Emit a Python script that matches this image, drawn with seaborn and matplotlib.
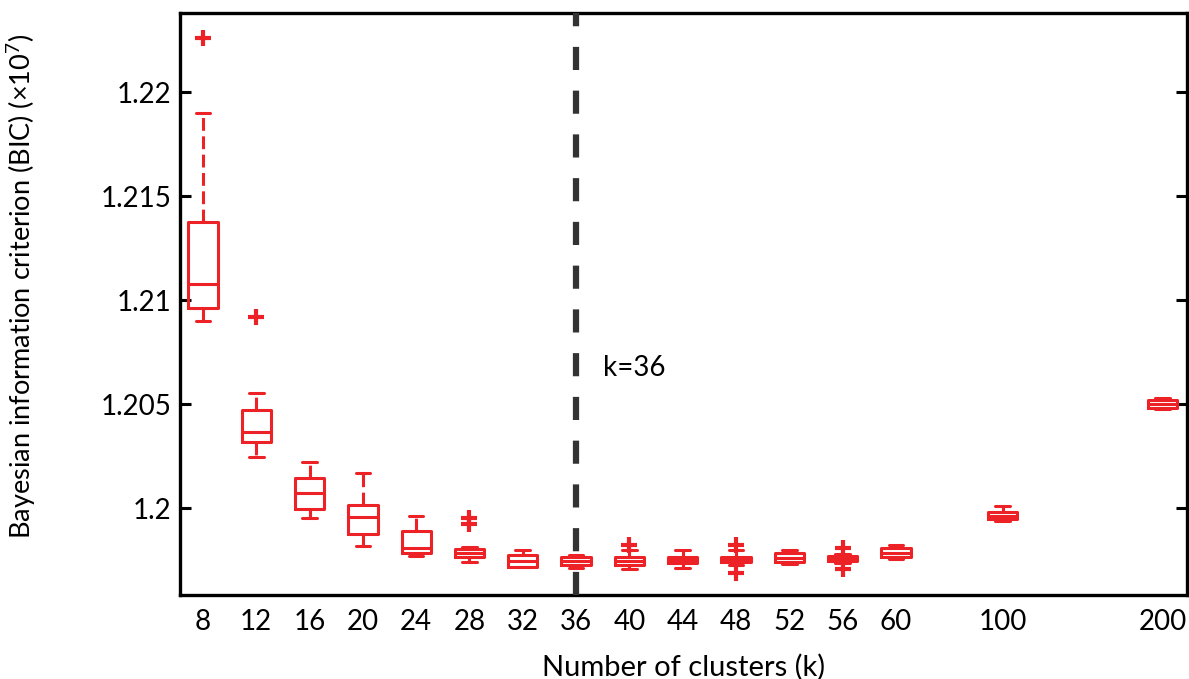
import numpy as np
import pandas as pd
import matplotlib
matplotlib.use("Agg")
import matplotlib.pyplot as plt
from matplotlib.ticker import FuncFormatter
import seaborn as sns

# Number of clusters tested
k_values = ["8", "12", "16", "20", "24", "28", "32", "36", "40", "44", "48", "52", "56", "60", "100", "200"]

# BIC summary per k (units of 1e7): whisker ends, quartiles and median
whisker_low = [1.20900, 1.20247, 1.19953, 1.19817, 1.19769, 1.19739, 1.19715, 1.19712,
               1.19705, 1.19713, 1.19724, 1.19731, 1.19735, 1.19755, 1.19940, 1.20476]
quartile_1 = [1.20960, 1.20319, 1.19994, 1.19873, 1.19782, 1.19764, 1.19718, 1.19726,
              1.19726, 1.19734, 1.19739, 1.19740, 1.19745, 1.19764, 1.19945, 1.20482]
median = [1.21077, 1.20367, 1.20074, 1.19955, 1.19806, 1.19784, 1.19745, 1.19745,
          1.19745, 1.19750, 1.19752, 1.19762, 1.19757, 1.19786, 1.19962, 1.20500]
quartile_3 = [1.21374, 1.20471, 1.20143, 1.20016, 1.19888, 1.19803, 1.19774, 1.19764,
              1.19763, 1.19766, 1.19766, 1.19784, 1.19769, 1.19808, 1.19980, 1.20520]
whisker_high = [1.21900, 1.20551, 1.20220, 1.20168, 1.19962, 1.19812, 1.19798, 1.19774,
                1.19798, 1.19798, 1.19798, 1.19798, 1.19780, 1.19822, 1.20010, 1.20527]

# Outlying runs
outlier_k = ["8", "12", "28", "28", "40", "48", "48", "56", "56"]
outlier_bic = [1.22258, 1.20918, 1.19950, 1.19925, 1.19822, 1.19822, 1.19688, 1.19810, 1.19707]

y_ticks = [1.2, 1.205, 1.21, 1.215, 1.22]
chosen_k = "36"

RED = "#ec2227"

# Five-number summaries as long-form rows; with whis=(0, 100) these reproduce each box exactly
rows = []
for i, k in enumerate(k_values):
    for v in (whisker_low[i], quartile_1[i], median[i], quartile_3[i], whisker_high[i]):
        rows.append({"k": k, "bic": v})
box_df = pd.DataFrame(rows)
out_df = pd.DataFrame({"k": outlier_k, "bic": outlier_bic})

# Empty category slots widen the gaps before k=100 and k=200
order = k_values[:14] + [" "] + ["100"] + ["  ", "   "] + ["200"]

sns.set_theme(style="white")
plt.rcParams["font.family"] = ["Lato", "DejaVu Sans"]
plt.rcParams["mathtext.default"] = "regular"

fig = plt.figure(figsize=(11.89, 6.79), dpi=100)
ax = fig.add_axes([0.1514, 0.1237, 0.9983 - 0.1514, 0.9809 - 0.1237])

sns.boxplot(
    data=box_df, x="k", y="bic", order=order, ax=ax,
    whis=(0, 100), fill=False, color=RED, width=0.55, linewidth=2.2,
    whiskerprops={"linestyle": (0, (4.2, 1.8))},
    showfliers=False,
)
sns.stripplot(
    data=out_df, x="k", y="bic", order=order, ax=ax,
    jitter=False, marker="+", size=11.5, linewidth=3,
    color=RED, edgecolor=RED, zorder=4,
)

# Selected number of clusters
xk = order.index(chosen_k)
ax.axvline(xk, color="#333333", lw=4.5, dashes=(3.7, 3.3), zorder=5)
ax.text(xk + 0.5, 1.20673, "k=36", fontsize=20, va="center", ha="left", color="black")

ax.set_xlim(-0.43, 18.46)
ax.set_ylim(1.19582, 1.22380)
ax.set_yticks(y_ticks)
ax.yaxis.set_major_formatter(FuncFormatter(lambda v, p: f"{v:g}"))

ax.tick_params(axis="y", which="major", direction="in", length=8, width=2.2,
               left=True, right=True, labelsize=20, pad=6, colors="black")
ax.tick_params(axis="x", which="major", length=0, labelsize=20, pad=10, colors="black")

for side in ("left", "right", "top", "bottom"):
    ax.spines[side].set_visible(True)
    ax.spines[side].set_color("black")
    ax.spines[side].set_linewidth(2.4)

ax.set_xlabel("Number of clusters (k)", fontsize=21, labelpad=14, color="black")
ax.set_ylabel("Bayesian information criterion (BIC) (×10$^{7}$)", fontsize=19.5, color="black")
ax.yaxis.set_label_coords(-0.141, 0.53)

fig.savefig("out.png", dpi=100)
